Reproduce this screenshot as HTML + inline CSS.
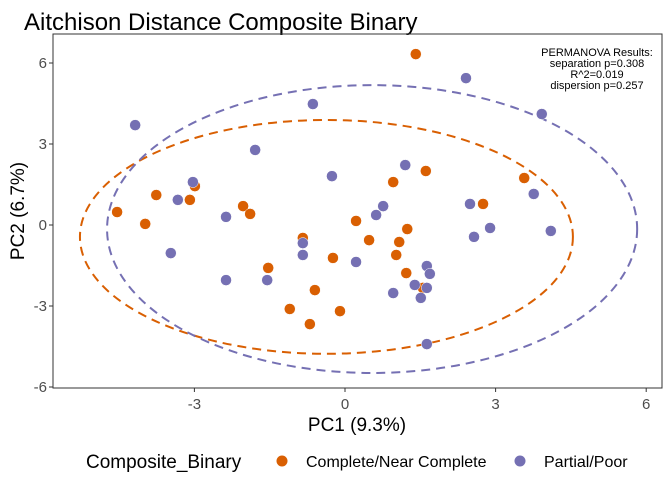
<!DOCTYPE html>
<html><head><meta charset="utf-8"><style>
body{margin:0;background:#fff;font-family:"Liberation Sans",sans-serif}
</style></head><body>
<svg width="672" height="480" xmlns="http://www.w3.org/2000/svg" font-family="Liberation Sans, sans-serif">
<text x="24" y="30" font-size="24" fill="#000">Aitchison Distance Composite Binary</text>
<g id="plot"></g>
<rect x="53" y="34" width="609" height="354" fill="none" stroke="#333" stroke-width="1"/>
<text x="597" y="56" font-size="11" text-anchor="middle"><tspan x="597" dy="0">PERMANOVA Results:</tspan><tspan x="597" dy="11">separation p=0.308</tspan><tspan x="597" dy="11">R^2=0.019</tspan><tspan x="597" dy="11">dispersion p=0.257</tspan></text>
<text x="357" y="431" font-size="19" text-anchor="middle">PC1 (9.3%)</text>
<text transform="translate(24,211) rotate(-90)" font-size="19" text-anchor="middle">PC2 (6.7%)</text>
<g>
<text x="86" y="468" font-size="19">Composite_Binary</text>
<circle cx="282" cy="461" r="5.5" fill="#D95F02"/>
<text x="306" y="467" font-size="16">Complete/Near Complete</text>
<circle cx="520" cy="461" r="5.5" fill="#7570B3"/>
<text x="544" y="467" font-size="16">Partial/Poor</text>
</g>
</svg>
<script>
const xTicks=[-3,0,3,6];
const yTicks=[-6,-3,0,3,6];
const orangeX=[1.41,1.61,0.96,0.22,0.48,1.24,1.08,1.02,1.22,-0.24,-0.60,-0.10,-0.70,-1.10,-1.53,-0.84,-2.03,-1.89,-2.99,-3.09,-3.76,-4.54,-3.98,3.57,2.75,1.55];
const orangeY=[6.33,2.00,1.59,0.15,-0.56,-0.15,-0.63,-1.11,-1.78,-1.22,-2.41,-3.19,-3.67,-3.11,-1.59,-0.48,0.70,0.41,1.44,0.93,1.11,0.48,0.04,1.74,0.78,-2.33];
const purpleX=[-4.18,-0.64,-1.79,-0.26,-3.03,-3.33,-2.37,-3.47,-2.37,-1.55,-0.84,-0.84,0.22,2.41,3.92,1.20,3.76,2.49,2.89,2.57,4.10,0.76,0.62,1.63,1.69,1.39,1.63,1.51,0.96,1.63];
const purpleY=[3.70,4.48,2.78,1.81,1.59,0.93,0.30,-1.04,-2.04,-2.04,-0.67,-1.11,-1.37,5.44,4.11,2.22,1.15,0.78,-0.11,-0.44,-0.22,0.70,0.37,-1.52,-1.81,-2.22,-2.33,-2.70,-2.52,-4.41];
const orangeEllipse=[-0.37,-0.44,4.91,4.33];
const purpleEllipse=[0.54,-0.15,5.28,5.33];
const sx=v=>345+v*50.2, sy=v=>225-v*27;
const NS="http://www.w3.org/2000/svg";
const g=document.getElementById('plot');
function mk(t,a){const e=document.createElementNS(NS,t);for(const k in a)e.setAttribute(k,a[k]);g.appendChild(e);return e;}
xTicks.forEach(t=>{
 const l=mk('line',{x1:sx(t),x2:sx(t),y1:388,y2:392,stroke:'#333'});
 
 
 const tx=mk('text',{x:sx(t),y:409,'font-size':15,'text-anchor':'middle',fill:'#4d4d4d'});tx.textContent=t;
 
 
});
yTicks.forEach(t=>{
 const l=mk('line',{x1:49,x2:53,y1:sy(t),y2:sy(t),stroke:'#333'});
 
 
 const tx=mk('text',{x:47,y:sy(t)+5,'font-size':15,'text-anchor':'end',fill:'#4d4d4d'});tx.textContent=t;
 
 
});
function ell(e,c,n){
 const el=mk('ellipse',{cx:sx(e[0]),cy:sy(e[1]),rx:e[2]*50.2,ry:e[3]*27,fill:'none',stroke:c,'stroke-width':2,'stroke-dasharray':'9 6'});
 
 
}
ell(orangeEllipse,'#D95F02','ellipse-complete');
ell(purpleEllipse,'#7570B3','ellipse-partial');
function pts(X,Y,c,n){X.forEach((x,i)=>{
 const p=mk('circle',{cx:sx(x),cy:sy(Y[i]),r:5.5,fill:c,stroke:'#fff','stroke-width':0.5});
 
 
});}
pts(orangeX,orangeY,'#D95F02','point-complete');
pts(purpleX,purpleY,'#7570B3','point-partial');
</script>
</body></html>
